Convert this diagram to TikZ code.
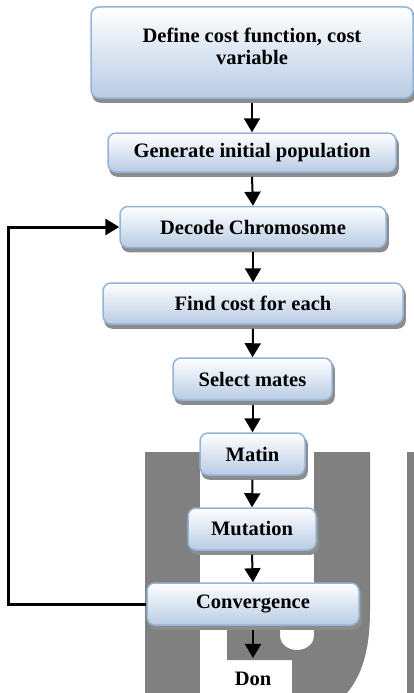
\documentclass[tikz,border=0pt]{standalone}
\usepackage{fontspec}
\setmainfont{Liberation Serif}
\usetikzlibrary{arrows.meta,backgrounds}

\definecolor{boxline}{RGB}{149,179,215}
\definecolor{boxfill}{RGB}{184,204,228}
\definecolor{boxshade}{RGB}{140,140,140}
\definecolor{wmgray}{RGB}{128,128,128}

\begin{document}
\begin{tikzpicture}[x=1pt, y=-1pt,
  every node/.style={font=\fontsize{20.5}{22}\selectfont\bfseries},
  stage/.style={draw=boxline, line width=1.5pt, rounded corners=8pt,
    top color=white, bottom color=boxfill, minimum height=41pt, inner sep=0pt},
  flow/.style={-{Triangle[width=16pt,length=14pt]}, line width=2pt}]
  \useasboundingbox (0,0) rectangle (414,693);

  % stages
  \node[stage, minimum width=322pt, minimum height=91pt] (def) at (252,52.5) {};
  \node[align=center] (deftext) at (252,46) {Define cost function, cost\\variable};
  \node[stage, minimum width=288pt, minimum height=39pt] (gen) at (252,152.5) {Generate initial population};
  \node[stage, minimum width=266pt] (dec) at (253,227) {Decode Chromosome};
  \node[stage, minimum width=300pt] (cost) at (253,303.5) {Find cost for each};
  \node[stage, minimum width=159pt, minimum height=42pt] (sel) at (252.5,379) {Select mates};
  \node[stage, minimum width=105pt, minimum height=42pt] (mat) at (252.5,454) {Matin};
  \node[stage, minimum width=128pt, minimum height=42pt] (mut) at (252,529) {Mutation};
  \node[stage, minimum width=212pt, minimum height=42pt] (conv) at (253,604) {Convergence};
  \node[inner ysep=14pt] (don) at (253,679) {Don};

  \begin{scope}[on background layer]
    % watermark letters
    \fill[wmgray] (145,452) rectangle (200,693);
    \fill[wmgray] (314,452) -- (370,452) -- (370,610)
      .. controls (370,650) and (362,675) .. (347,693) -- (292,693) -- (292,660)
      -- (227,660) -- (227,600) -- (280,600) -- (280,635)
      .. controls (280,655) and (314,655) .. (314,635) -- cycle;
    \fill[wmgray] (407,452) rectangle (414,693);
    % shadows
    \foreach \n in {def,gen,dec,cost,sel,mat,mut,conv}
      \fill[boxshade, rounded corners=8pt] ([xshift=2pt,yshift=-4pt]\n.south west) rectangle ([xshift=2pt,yshift=-4pt]\n.north east);
  \end{scope}

  % arrows
  \draw[flow] ([yshift=-4pt]def.south) -- (gen.north);
  \draw[flow] ([yshift=-4pt]gen.south) -- (dec.north);
  \draw[flow] ([yshift=-4pt]dec.south) -- (cost.north);
  \draw[flow] ([yshift=-4pt]cost.south) -- (sel.north);
  \draw[flow] ([yshift=-4pt]sel.south) -- (mat.north);
  \draw[flow] ([yshift=-4pt]mat.south) -- (mut.north);
  \draw[flow] ([yshift=-4pt]mut.south) -- (conv.north);
  \draw[flow] ([yshift=-4pt]conv.south) -- (don.north);

  % loop back
  \coordinate (back) at (8,604);
  \draw[flow, line width=3pt] (conv.west) -- (back) |- (dec.west);
\end{tikzpicture}
\end{document}
